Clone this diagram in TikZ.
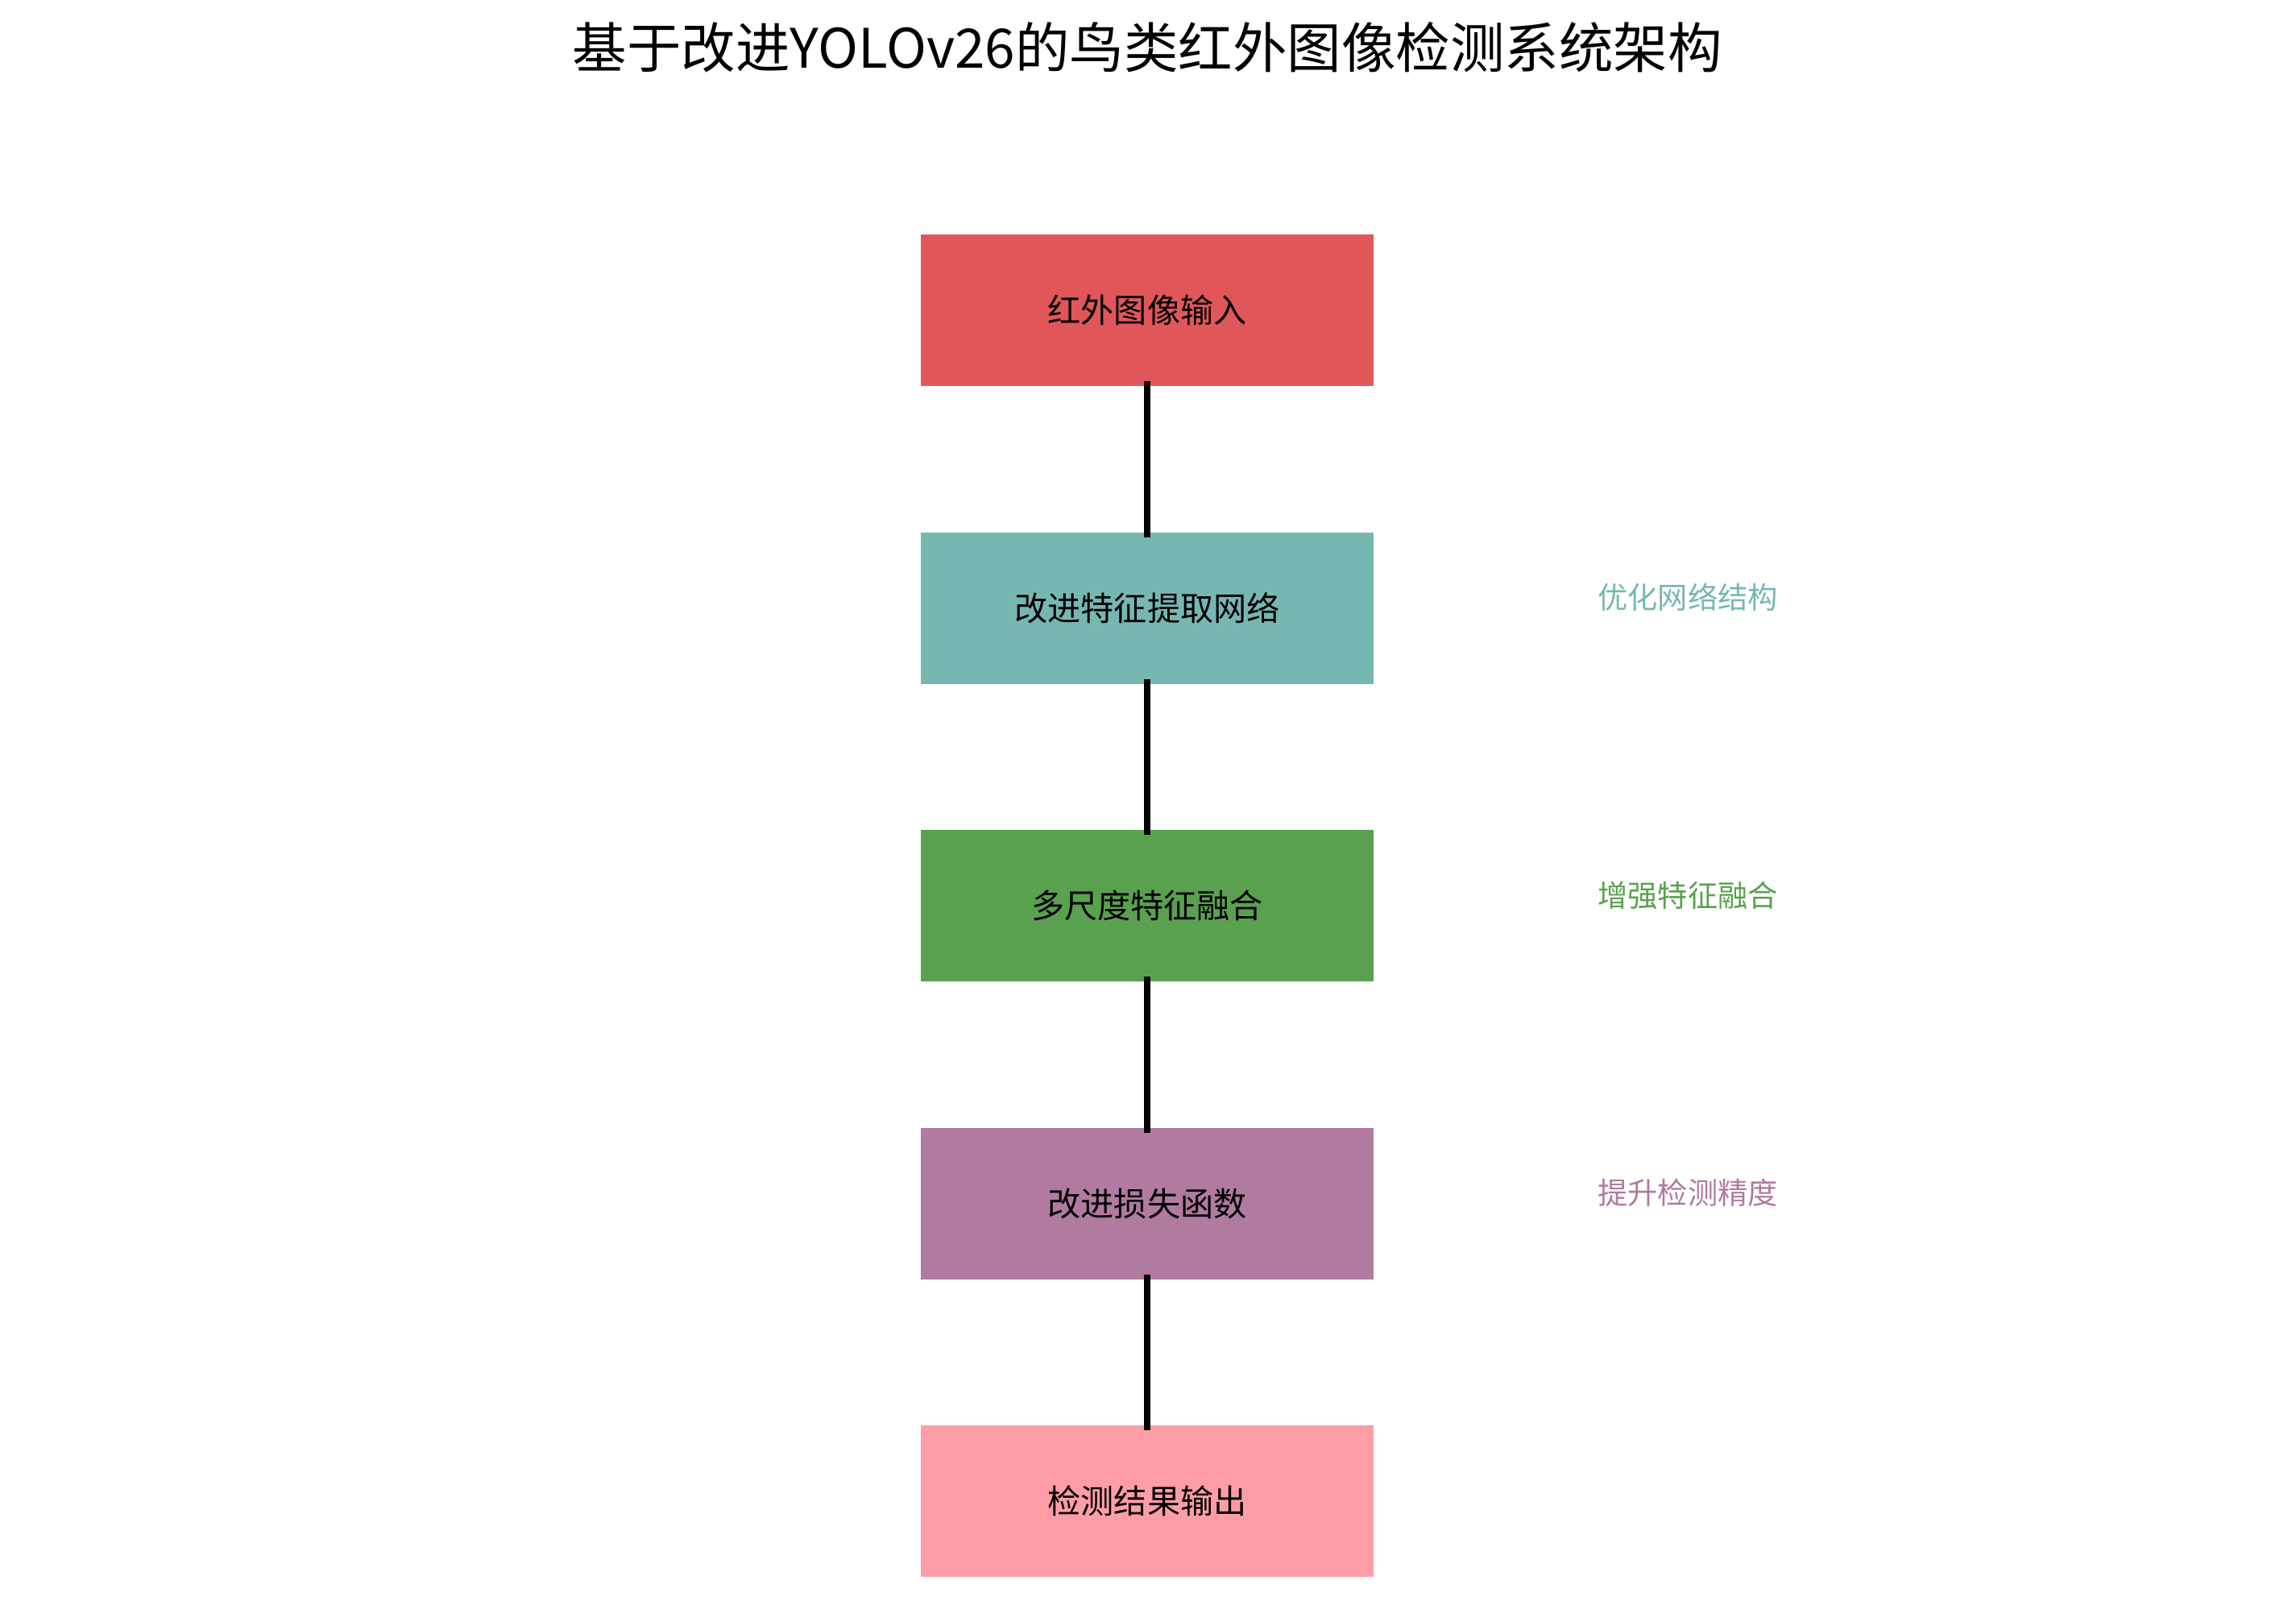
\documentclass[tikz,border=0pt]{standalone}
\usepackage{fontspec}
\setmainfont{Noto Sans CJK SC}
\usetikzlibrary{positioning}
\definecolor{stepRed}{HTML}{E15759}
\definecolor{stepTeal}{HTML}{76B7B2}
\definecolor{stepGreen}{HTML}{59A14F}
\definecolor{stepPurple}{HTML}{B07AA1}
\definecolor{stepPink}{HTML}{FF9DA7}

\begin{document}
\begin{tikzpicture}[
    stage/.style={rectangle, draw=none, minimum width=5.62cm, minimum height=1.88cm,
                  inner sep=0pt, outer sep=0pt, font=\fontsize{11.7pt}{14pt}\selectfont, text=black},
    note/.style={font=\fontsize{10.6pt}{12pt}\selectfont, inner sep=0pt},
    link/.style={line width=2.3pt, black},
    node distance=1.815cm,
  ]
    \useasboundingbox (0,0) rectangle (28.5,-19.86);

    % Title
    \node[font=\fontsize{19.2pt}{23pt}\selectfont] (title) at (14.24,-0.59)
      {基于改进YOLOv26的鸟类红外图像检测系统架构};

    % Pipeline stages
    \node[stage, fill=stepRed] (input) at (14.24,-3.85) {红外图像输入};
    \node[stage, fill=stepTeal, below=of input] (backbone) {改进特征提取网络};
    \node[stage, fill=stepGreen, below=of backbone] (fusion) {多尺度特征融合};
    \node[stage, fill=stepPurple, below=of fusion] (loss) {改进损失函数};
    \node[stage, fill=stepPink, below=of loss] (output) {检测结果输出};

    % Connectors
    \foreach \a/\b in {input/backbone, backbone/fusion, fusion/loss, loss/output}{
      \draw[link] ([yshift=0.06cm]\a.south) -- ([yshift=-0.06cm]\b.north);
    }

    % Side notes
    \foreach \s/\c/\t in {backbone/stepTeal/优化网络结构,
                          fusion/stepGreen/增强特征融合,
                          loss/stepPurple/提升检测精度}{
      \node[note, text=\c] (note-\s) at ([xshift=6.71cm, yshift=0.13cm]\s.center) {\t};
    }
  \end{tikzpicture}
\end{document}
